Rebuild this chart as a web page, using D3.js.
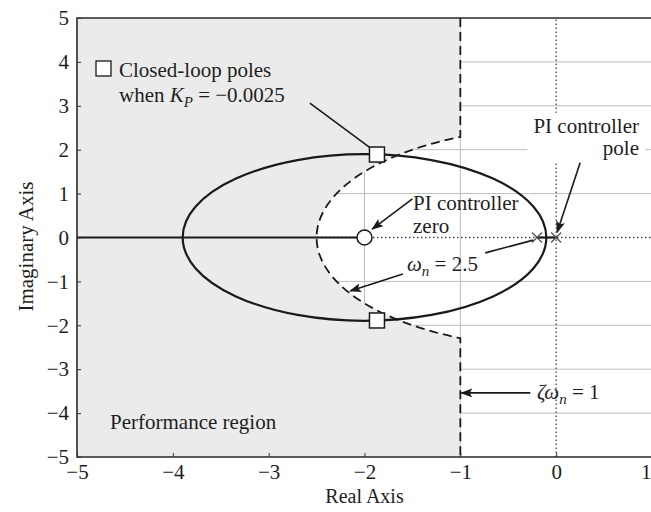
<!DOCTYPE html>
<html>
<head>
<meta charset="utf-8">
<script src="https://cdn.jsdelivr.net/npm/d3@7/dist/d3.min.js"></script>
<style>
  html, body { margin: 0; padding: 0; background: #fff; }
  svg { display: block; }
  text { font-family: "Liberation Serif", "Times New Roman", serif; fill: #1e1e1e; }
</style>
</head>
<body>
<svg id="chart" width="651" height="512"></svg>
<script>
// ---------------- data ----------------
const xTicks = [-5, -4, -3, -2, -1, 0, 1];
const yTicks = [-5, -4, -3, -2, -1, 0, 1, 2, 3, 4, 5];
const xDomain = [-5, 1];
const yDomain = [-5, 5];
const openLoopPoles = [-0.2, 0];        // PI controller pole at 0, plant pole at -0.2
const openLoopZero = -2;                // PI controller zero
const closedLoopPolesRe = [-1.87, -1.87];
const closedLoopPolesIm = [1.89, -1.89];
const zetaOmegaBound = 1;               // zeta*omega_n = 1  -> Re(s) = -1
const omegaNBound = 2.5;                // omega_n = 2.5

// ---------------- layout ----------------
const svg = d3.select("#chart");
const x = d3.scaleLinear().domain(xDomain).range([77, 652]);
const y = d3.scaleLinear().domain(yDomain).range([457, 18]);
const fs = 21;

const defs = svg.append("defs");
defs.append("clipPath").attr("id", "plot")
  .append("rect").attr("x", x(xDomain[0])).attr("y", y(yDomain[1]))
  .attr("width", x(xDomain[1]) - x(xDomain[0])).attr("height", y(yDomain[0]) - y(yDomain[1]));
defs.append("marker").attr("id", "arrow").attr("markerUnits", "userSpaceOnUse")
  .attr("markerWidth", 12).attr("markerHeight", 9).attr("refX", 11).attr("refY", 4.5)
  .attr("orient", "auto")
  .append("path").attr("d", "M0,0 L12,4.5 L0,9 L2.5,4.5 Z").attr("fill", "#1a1a1a");

const plot = svg.append("g").attr("clip-path", "url(#plot)");

// white background
plot.append("rect").attr("x", x(xDomain[0])).attr("y", y(yDomain[1]))
  .attr("width", x(xDomain[1]) - x(xDomain[0])).attr("height", y(yDomain[0]) - y(yDomain[1]))
  .attr("fill", "#fff");

// grid
plot.selectAll(".hgrid").data(yTicks.filter(d => d !== 0 && Math.abs(d) !== 5)).join("line")
  .attr("x1", x(xDomain[0])).attr("x2", x(xDomain[1]))
  .attr("y1", d => y(d)).attr("y2", d => y(d))
  .attr("stroke", "#bdbdbd").attr("stroke-width", 1);
plot.selectAll(".vgrid").data(xTicks.filter(d => d !== 0)).join("line")
  .attr("x1", d => x(d)).attr("x2", d => x(d))
  .attr("y1", y(yDomain[0])).attr("y2", y(yDomain[1]))
  .attr("stroke", "#bdbdbd").attr("stroke-width", 1);
// dotted axes through origin
plot.append("line").attr("x1", x(xDomain[0])).attr("x2", x(xDomain[1]))
  .attr("y1", y(0)).attr("y2", y(0))
  .attr("stroke", "#444").attr("stroke-width", 1.3).attr("stroke-dasharray", "1.5,2.5");
plot.append("line").attr("x1", x(0)).attr("x2", x(0))
  .attr("y1", y(yDomain[0])).attr("y2", y(yDomain[1]))
  .attr("stroke", "#444").attr("stroke-width", 1.3).attr("stroke-dasharray", "1.5,2.5");

// performance region (gray)
const yc = Math.sqrt(omegaNBound * omegaNBound - zetaOmegaBound * zetaOmegaBound);
const rx = x(0) - x(-omegaNBound), ry = y(-omegaNBound) - y(0);
const regionPath = `M${x(xDomain[0])},${y(yDomain[1])} L${x(-zetaOmegaBound)},${y(yDomain[1])} ` +
  `L${x(-zetaOmegaBound)},${y(yc)} A${rx},${ry} 0 0 0 ${x(-zetaOmegaBound)},${y(-yc)} ` +
  `L${x(-zetaOmegaBound)},${y(yDomain[0])} L${x(xDomain[0])},${y(yDomain[0])} Z`;
plot.append("path").attr("d", regionPath).attr("fill", "#ebebeb");

// white background behind the pole label
plot.append("rect").attr("x", x(-0.3)).attr("y", y(2.84))
  .attr("width", x(0.93) - x(-0.3)).attr("height", y(1.73) - y(2.84)).attr("fill", "#fff");

// dashed boundary
const boundaryPath = `M${x(-zetaOmegaBound)},${y(yDomain[1])} L${x(-zetaOmegaBound)},${y(yc)} ` +
  `A${rx},${ry} 0 0 0 ${x(-zetaOmegaBound)},${y(-yc)} L${x(-zetaOmegaBound)},${y(yDomain[0])}`;
plot.append("path").attr("d", boundaryPath).attr("fill", "none")
  .attr("stroke", "#1a1a1a").attr("stroke-width", 1.8).attr("stroke-dasharray", "9,5");

// root locus: circle centered at the zero through the breakaway points
const r = Math.sqrt(Math.abs(openLoopZero - openLoopPoles[0]) * Math.abs(openLoopZero - openLoopPoles[1]));
plot.append("ellipse").attr("cx", x(openLoopZero)).attr("cy", y(0))
  .attr("rx", x(openLoopZero + r) - x(openLoopZero)).attr("ry", y(0) - y(r))
  .attr("fill", "none").attr("stroke", "#1a1a1a").attr("stroke-width", 2.2);
// real-axis branches
const realSegs = [[xDomain[0], openLoopZero], [openLoopPoles[0], openLoopPoles[1]]];
plot.selectAll(".seg").data(realSegs).join("line")
  .attr("x1", d => x(d[0])).attr("x2", d => x(d[1]))
  .attr("y1", y(0)).attr("y2", y(0))
  .attr("stroke", "#1a1a1a").attr("stroke-width", 2.2);

// open-loop pole markers
const xs = 5;
openLoopPoles.forEach(p => {
  plot.append("path")
    .attr("d", `M${x(p) - xs},${y(0) - xs} L${x(p) + xs},${y(0) + xs} M${x(p) - xs},${y(0) + xs} L${x(p) + xs},${y(0) - xs}`)
    .attr("stroke", "#555").attr("stroke-width", 1.3);
});
// zero marker
plot.append("circle").attr("cx", x(openLoopZero)).attr("cy", y(0)).attr("r", 7.5)
  .attr("fill", "#fff").attr("stroke", "#1a1a1a").attr("stroke-width", 1.5);
// closed-loop poles
const sq = 15;
plot.selectAll(".clp").data(closedLoopPolesRe.map((d, i) => [d, closedLoopPolesIm[i]])).join("rect")
  .attr("x", d => x(d[0]) - sq / 2).attr("y", d => y(d[1]) - sq / 2)
  .attr("width", sq).attr("height", sq)
  .attr("fill", "#fff").attr("stroke", "#1a1a1a").attr("stroke-width", 1.5);

// box
svg.append("path")
  .attr("d", `M${x(xDomain[1])},${y(yDomain[1])} L${x(xDomain[0])},${y(yDomain[1])} L${x(xDomain[0])},${y(yDomain[0])} L${x(xDomain[1])},${y(yDomain[0])}`)
  .attr("fill", "none").attr("stroke", "#2a2a2a").attr("stroke-width", 1.6);

// axes (ticks + labels)
const fmt = d3.format("d");
const ax = svg.append("g").attr("transform", `translate(0,${y(yDomain[0])})`)
  .call(d3.axisBottom(x).tickValues(xTicks).tickFormat(fmt).tickSizeInner(-4).tickSizeOuter(0).tickPadding(7));
const ay = svg.append("g").attr("transform", `translate(${x(xDomain[0])},0)`)
  .call(d3.axisLeft(y).tickValues(yTicks).tickFormat(fmt).tickSizeInner(-4).tickSizeOuter(0).tickPadding(8));
[ax, ay].forEach(g => {
  g.select(".domain").remove();
  g.selectAll(".tick line").attr("stroke", "#333");
  g.selectAll(".tick text").style("font-family", "Liberation Serif, serif")
    .style("font-size", fs + "px").attr("fill", "#1e1e1e");
});
// last x tick label sits at the window edge: keep it inside
ax.selectAll(".tick text").filter(d => d === xDomain[1]).attr("text-anchor", "end").attr("x", 651 - x(xDomain[1]));

// axis titles
svg.append("text").attr("x", x(-2)).attr("y", 503).attr("text-anchor", "middle")
  .style("font-size", "20px").text("Real Axis");
svg.append("text").attr("transform", `translate(33,${y(0) + 9}) rotate(-90)`)
  .attr("text-anchor", "middle").style("font-size", "21px").text("Imaginary Axis");

// ---------------- annotations ----------------
const ann = svg.append("g");
function arrow(p0, p1, head) {
  const l = ann.append("line").attr("x1", x(p0[0])).attr("y1", y(p0[1]))
    .attr("x2", x(p1[0])).attr("y2", y(p1[1]))
    .attr("stroke", "#1a1a1a").attr("stroke-width", 1.6);
  if (head) l.attr("marker-end", "url(#arrow)");
}
// legend
ann.append("rect").attr("x", 96).attr("y", 61).attr("width", 15).attr("height", 15)
  .attr("fill", "#fff").attr("stroke", "#1a1a1a").attr("stroke-width", 1.3);
ann.append("text").attr("x", 119).attr("y", 76.5).style("font-size", fs + "px").text("Closed-loop poles");
const t2 = ann.append("text").attr("x", 119).attr("y", 102).style("font-size", fs + "px");
t2.append("tspan").text("when ");
t2.append("tspan").style("font-style", "italic").text("K");
t2.append("tspan").style("font-style", "italic").style("font-size", "15px").attr("dy", 5).text("P");
t2.append("tspan").attr("dy", -5).text(" = \u22120.0025");
arrow([-2.57, 3.06], [closedLoopPolesRe[0] - 0.08, closedLoopPolesIm[0] + 0.17], false);

// PI controller pole
ann.append("text").attr("x", 639).attr("y", 133).attr("text-anchor", "end").style("font-size", fs + "px").text("PI controller");
ann.append("text").attr("x", 639).attr("y", 155).attr("text-anchor", "end").style("font-size", fs + "px").text("pole");
arrow([0.25, 1.7], [openLoopPoles[1] + 0.01, 0.12], true);

// PI controller zero
ann.append("text").attr("x", 413).attr("y", 209.5).style("font-size", fs + "px").text("PI controller");
ann.append("text").attr("x", 413).attr("y", 233).style("font-size", fs + "px").text("zero");
arrow([-1.5, 0.88], [openLoopZero + 0.08, 0.19], true);

// omega_n = 2.5
const t3 = ann.append("text").attr("x", 407).attr("y", 271).style("font-size", fs + "px");
t3.append("tspan").style("font-style", "italic").text("\u03c9");
t3.append("tspan").style("font-style", "italic").style("font-size", "15px").attr("dy", 5).text("n");
t3.append("tspan").attr("dy", -5).text(" = 2.5");
arrow([-1.6, -0.83], [-2.15, -1.22], true);
arrow([-0.74, -0.35], [-0.24, -0.06], false);

// zeta omega_n = 1
const t4 = ann.append("text").attr("x", 537).attr("y", 399).style("font-size", fs + "px");
t4.append("tspan").style("font-style", "italic").text("\u03b6\u03c9");
t4.append("tspan").style("font-style", "italic").style("font-size", "15px").attr("dy", 5).text("n");
t4.append("tspan").attr("dy", -5).text(" = 1");
arrow([-0.27, -3.54], [-zetaOmegaBound + 0.01, -3.54], true);

// Performance region
ann.append("text").attr("x", 110).attr("y", 428.5).style("font-size", fs + "px").text("Performance region");
</script>
</body>
</html>
